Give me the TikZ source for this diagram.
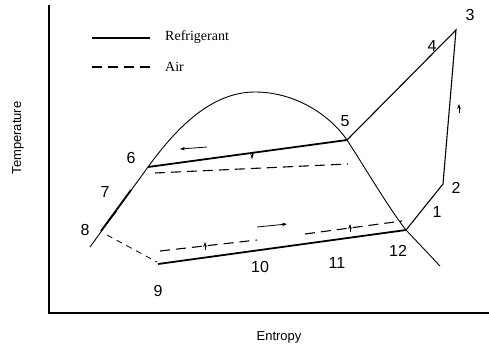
\documentclass[tikz,border=0pt]{standalone}
\usepackage{fontspec}
\setmainfont{Liberation Serif}
\newfontfamily\labelfont{Liberation Sans}
\usetikzlibrary{positioning,arrows.meta}

\begin{document}
\begin{tikzpicture}[x=1pt, y=-1pt,
    num/.style={font=\labelfont\fontsize{16}{16}\selectfont, inner sep=0pt},
    axislabel/.style={font=\labelfont\fontsize{13}{13}\selectfont, inner sep=0pt},
    legendtext/.style={font=\fontsize{14}{14}\selectfont, anchor=west, inner sep=0pt},
    refrigerant/.style={line width=1.8pt},
    air/.style={line width=1.1pt, dash pattern=on 10pt off 6pt},
    dome/.style={line width=0.9pt},
    tip/.style={-{Stealth[length=5pt, width=3.5pt]}, line width=0.8pt}]
    \useasboundingbox (0,0) rectangle (489,348);

    % Define axes
    \coordinate (ytop) at (49,5);
    \coordinate (origin) at (49,313);
    \coordinate (xend) at (489,313);
    \draw[line width=1.2pt] (ytop) -- (origin) -- (xend);
    \node[axislabel, rotate=90] (tlabel) at (18,138) {Temperature};
    \node[axislabel] (slabel) at (279,337) {Entropy};

    % Define legend
    \coordinate (refA) at (92,38);
    \coordinate (refB) at (150,38);
    \coordinate (airA) at (92,67);
    \coordinate (airB) at (152,67);
    \draw[refrigerant] (refA) -- (refB);
    \draw[air] (airA) -- (airB);
    \node[legendtext] (refname) at (165,37) {Refrigerant};
    \node[legendtext] (airname) at (165,67) {Air};

    % Define state points
    \coordinate (P2) at (443,184);
    \coordinate (P3) at (456,30);
    \coordinate (P5) at (347,140);
    \coordinate (P6) at (148,167);
    \coordinate (P7) at (131,190);
    \coordinate (P8) at (101,231);
    \coordinate (P9) at (158,264);
    \coordinate (P12) at (406,230);
    \coordinate (domeL) at (90,247);
    \coordinate (domeTop) at (255,92);
    \coordinate (domeR) at (440,266);

    % Saturation dome
    \draw[dome] (domeL) -- (P6)
        .. controls (175,130) and (210,92) .. (domeTop)
        .. controls (295,92) and (330,115) .. (P5)
        .. controls (364,166) and (390,210) .. (P12) -- (domeR);

    % Draw refrigerant path
    \draw[refrigerant] (P6) -- (P5);
    \draw[line width=1.1pt] (P5) -- (P3) -- (P2) -- (P12);
    \draw[refrigerant] (P12) -- (P9);
    \draw[refrigerant] (P7) -- (P8);
    \coordinate (wedge) at (117,211);
    \draw[line width=0.6pt] (P8) -- (wedge);

    % Draw air streams
    \coordinate (evapA) at (155,173);
    \coordinate (evapB) at (348,164);
    \draw[air] (evapA) -- (evapB);
    \coordinate (inA) at (107,235);
    \coordinate (inB) at (157,262);
    \draw[air, dash pattern=on 6pt off 5pt, line width=0.8pt] (inA) -- (inB);
    \coordinate (condA) at (160,251);
    \coordinate (condB) at (257,240);
    \coordinate (condC) at (305,234);
    \coordinate (condD) at (402,221);
    \draw[air] (condA) -- (condB);
    \draw[air] (condC) -- (condD);

    % Flow direction marks
    \coordinate (flowA) at (207,147);
    \coordinate (flowB) at (180,149);
    \draw[tip] (flowA) -- (flowB);
    \coordinate (flowC) at (257,227);
    \coordinate (flowD) at (287,224);
    \draw[tip] (flowC) -- (flowD);
    \coordinate (tickA) at (252,152);
    \coordinate (tickB) at (252,159);
    \draw[tip] (tickA) -- (tickB);
    \coordinate (tickC) at (205,250);
    \coordinate (tickD) at (205,242);
    \draw[tip] (tickC) -- (tickD);
    \coordinate (tickE) at (350,232);
    \coordinate (tickF) at (350,224);
    \draw[tip] (tickE) -- (tickF);
    \coordinate (tickG) at (459,113);
    \coordinate (tickH) at (459,104);
    \draw[tip] (tickG) -- (tickH);

    % Point labels
    \node[num] (n1) at (437,212) {1};
    \node[num] (n2) at (456,188) {2};
    \node[num] (n3) at (470,15) {3};
    \node[num] (n4) at (432,46) {4};
    \node[num] (n5) at (345,121) {5};
    \node[num] (n6) at (131,158) {6};
    \node[num] (n7) at (105,192) {7};
    \node[num] (n8) at (85,230) {8};
    \node[num] (n9) at (158,291) {9};
    \node[num] (n10) at (260,267) {10};
    \node[num] (n11) at (337,263) {11};
    \node[num] (n12) at (398,251) {12};
\end{tikzpicture}
\end{document}
